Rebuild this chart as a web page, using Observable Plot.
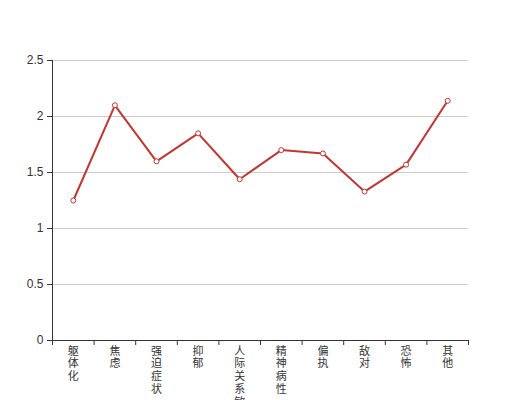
<!DOCTYPE html>
<html>
<head>
<meta charset="utf-8">
<script src="https://cdn.jsdelivr.net/npm/d3@7"></script>
<script src="https://cdn.jsdelivr.net/npm/@observablehq/plot@0.6"></script>
<style>
  html, body { margin: 0; padding: 0; overflow: hidden; background: #fff; }
</style>
</head>
<body>
<div id="chart"></div>
<script>
const categories = ["躯体化", "焦虑", "强迫症状", "抑郁", "人际关系敏感", "精神病性", "偏执", "敌对", "恐怖", "其他"];
const values = [1.25, 2.10, 1.60, 1.85, 1.44, 1.70, 1.67, 1.33, 1.57, 2.14];
const yTicks = [0, 0.5, 1, 1.5, 2, 2.5];

const data = categories.map((c, i) => ({i, c, v: values[i]}));
const centers = categories.map((_, i) => i);
const bounds = categories.map((_, i) => i - 0.5).concat([categories.length - 0.5]);

const font = "'Liberation Sans', 'Noto Sans CJK SC', sans-serif";
const red = "#c23531";
const axisColor = "#333";

const chart = Plot.plot({
  width: 520,
  height: 400,
  marginLeft: 52,
  marginRight: 52,
  marginTop: 60,
  marginBottom: 60,
  style: {fontFamily: font, fontSize: "12px", background: "#fff", color: axisColor},
  x: {type: "linear", domain: [-0.5, categories.length - 0.5], axis: null},
  y: {domain: [0, 2.5], axis: null},
  marks: [
    Plot.gridY(yTicks, {stroke: "#ccc", strokeOpacity: 1}),
    Plot.axisY(yTicks, {tickSize: 5, tickPadding: 4, tickFormat: d => String(d), stroke: axisColor, fill: axisColor, fontSize: 12, label: null}),
    Plot.axisX(bounds, {tickSize: 5, tickFormat: () => "", stroke: axisColor, label: null}),
    Plot.axisX(centers, {tickSize: 0, tickPadding: 5, lineAnchor: "top", lineHeight: 1.16,
      tickFormat: i => Array.from(categories[i]).join("\n"), fill: axisColor, fontSize: 11, label: null}),
    Plot.ruleX([-0.5], {stroke: axisColor}),
    Plot.ruleY([0], {stroke: axisColor}),
    Plot.line(data, {x: "i", y: "v", stroke: red, strokeWidth: 2}),
    Plot.dot(data, {x: "i", y: "v", r: 2.5, fill: "#fff", stroke: red, strokeWidth: 1})
  ]
});
document.getElementById("chart").append(chart);
</script>
</body>
</html>
